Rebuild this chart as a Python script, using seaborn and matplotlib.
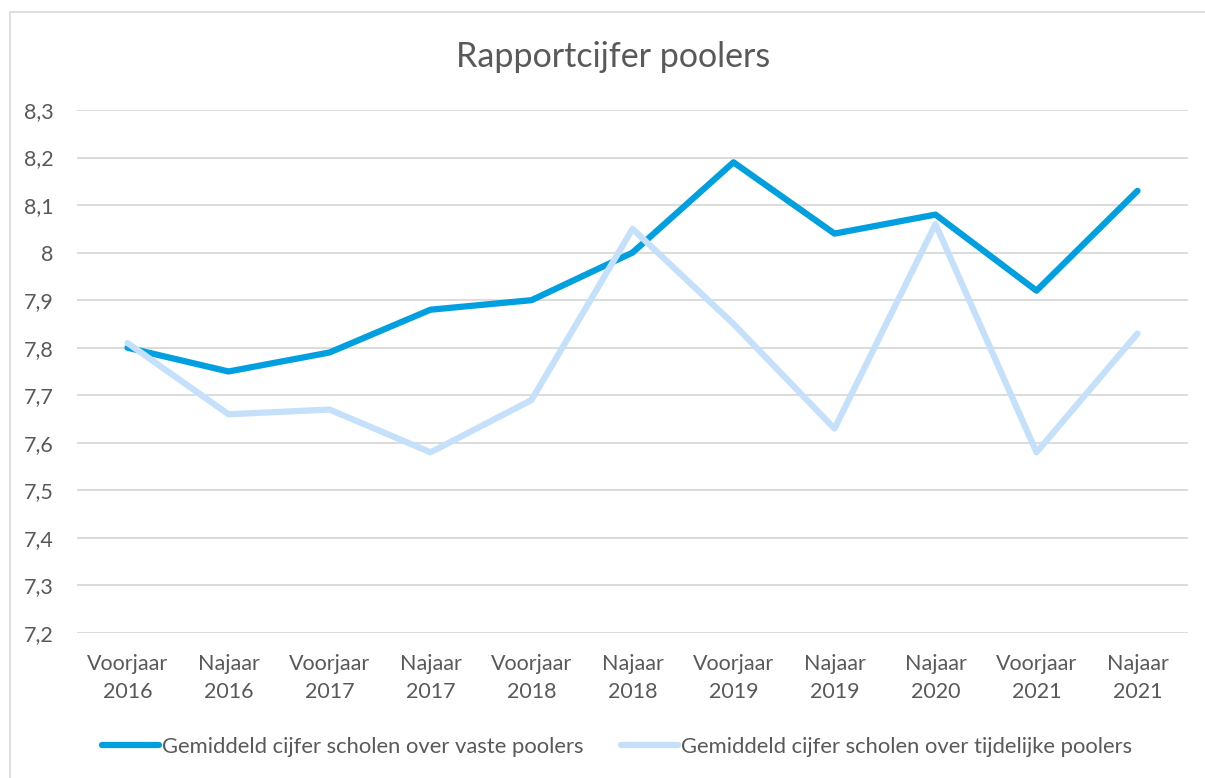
import pandas as pd
import numpy as np
import seaborn as sns
import matplotlib.pyplot as plt
from matplotlib.patches import Rectangle
from matplotlib.ticker import FuncFormatter

# data
periods = ['Voorjaar\n2016', 'Najaar\n2016', 'Voorjaar\n2017', 'Najaar\n2017', 'Voorjaar\n2018',
           'Najaar\n2018', 'Voorjaar\n2019', 'Najaar\n2019', 'Najaar\n2020', 'Voorjaar\n2021', 'Najaar\n2021']
vaste = [7.80, 7.75, 7.79, 7.88, 7.90, 8.00, 8.19, 8.04, 8.08, 7.92, 8.13]
tijdelijke = [7.81, 7.66, 7.67, 7.58, 7.69, 8.05, 7.85, 7.63, 8.06, 7.58, 7.83]
series_names = ['Gemiddeld cijfer scholen over vaste poolers',
                'Gemiddeld cijfer scholen over tijdelijke poolers']
yticks = [7.2, 7.3, 7.4, 7.5, 7.6, 7.7, 7.8, 7.9, 8.0, 8.1, 8.2, 8.3]

sns.set_theme(style='white')
plt.rcParams['font.family'] = ['Lato', 'DejaVu Sans']
text_col = '#595959'
grid_col = '#D9D9D9'

df = pd.concat([
    pd.DataFrame({'x': np.arange(len(periods)), 'cijfer': vaste, 'serie': series_names[0]}),
    pd.DataFrame({'x': np.arange(len(periods)), 'cijfer': tijdelijke, 'serie': series_names[1]}),
])

fig = plt.figure(figsize=(12.05, 7.78), dpi=100)
ax = fig.add_axes([77 / 1205, 1 - 633 / 778, (1188 - 77) / 1205, (633 - 110) / 778])

sns.lineplot(data=df, x='x', y='cijfer', hue='serie', hue_order=series_names,
             palette=['#009FDF', '#C5E0FA'], linewidth=4.5, ax=ax, legend=False,
             solid_capstyle='round', solid_joinstyle='round')
# tijdelijke line sits on top of the vaste line in the original
ax.lines[0].set_zorder(3)
ax.lines[1].set_zorder(4)

ax.set_xlim(-0.5, len(periods) - 0.5)
ax.set_ylim(7.2, 8.3)
ax.set_yticks(yticks)
ax.yaxis.set_major_formatter(FuncFormatter(lambda v, p: ('%g' % round(v, 1)).replace('.', ',')))
ax.set_xticks(np.arange(len(periods)))
ax.set_xticklabels(periods, linespacing=1.5)
ax.tick_params(axis='both', colors=text_col, labelsize=15.5, length=0)
ax.tick_params(axis='x', pad=15)
ax.tick_params(axis='y', pad=17)
ax.set_xlabel('')
ax.set_ylabel('')
ax.grid(axis='y', color=grid_col, linewidth=1.3)
ax.set_axisbelow(True)
for s in ax.spines.values():
    s.set_visible(False)

fig.text(613 / 1205, 1 - 57 / 778, 'Rapportcijfer poolers', ha='center', va='center',
         fontsize=24.5, color=text_col)

handles = [plt.Line2D([], [], color='#009FDF', lw=4.5, solid_capstyle='round'),
           plt.Line2D([], [], color='#C5E0FA', lw=4.5, solid_capstyle='round')]
fig.legend(handles, series_names, loc='center', bbox_to_anchor=(617 / 1205, 1 - 747 / 778),
           ncol=2, frameon=False, fontsize=15.8, labelcolor=text_col, handlelength=2.6,
           handletextpad=0.15, columnspacing=1.7)

# chart border (partly cut off in the original)
fig.patches.append(Rectangle((10 / 1205, -0.1), 2, 1 - 12 / 778 + 0.1, transform=fig.transFigure,
                             fill=False, edgecolor=grid_col, linewidth=1.2))

fig.savefig('out.png', dpi=100)
